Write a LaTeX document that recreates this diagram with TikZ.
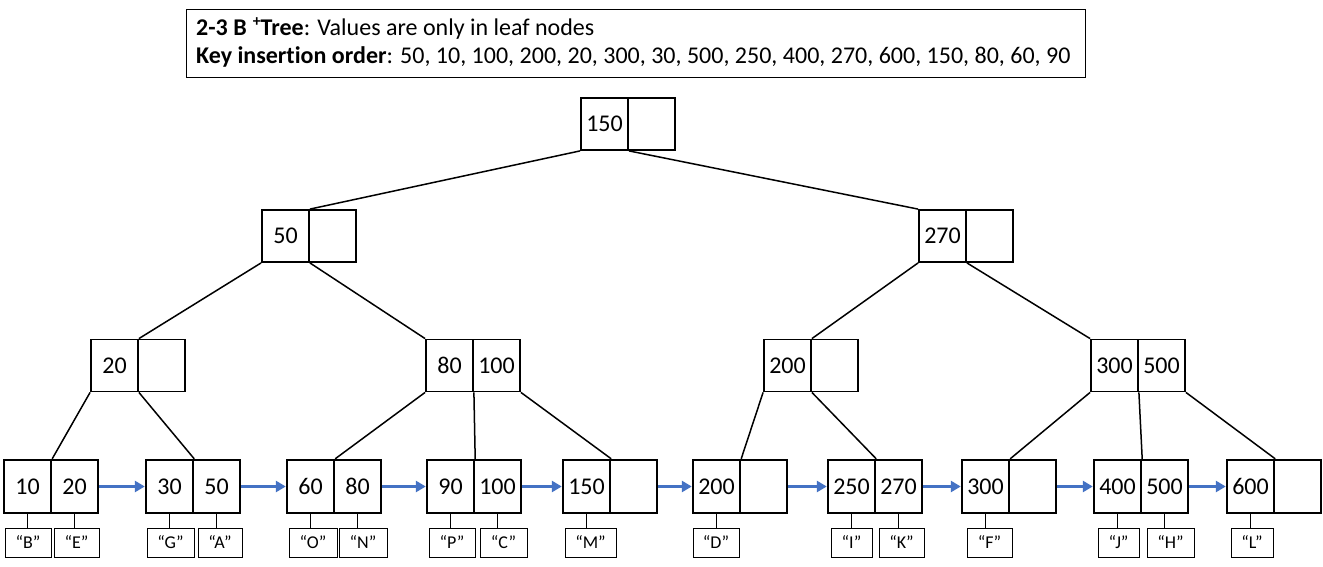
\documentclass[tikz,border=0pt]{standalone}
\usepackage{fontspec}
\setmainfont[Ligatures=NoCommon]{Carlito}
\usetikzlibrary{arrows.meta}
\definecolor{arrowblue}{HTML}{4472C4}
\begin{document}
\begin{tikzpicture}[x=1pt,y=-1pt,
  icell/.style={draw, line width=1.8pt, minimum width=47pt, minimum height=52pt, inner sep=0pt, font=\fontsize{24}{28}\selectfont},
  lcell/.style={icell, line width=2.4pt, minimum height=53pt},
  vbox/.style={draw, line width=1pt, minimum height=29pt, inner sep=0pt, font=\fontsize{18}{21}\selectfont},
  treeedge/.style={line width=1.5pt},
  stub/.style={line width=1pt},
  nextptr/.style={draw=arrowblue, line width=3pt, -{Triangle[length=10pt,width=11pt]}},
  titletext/.style={anchor=base west, inner sep=0pt, font=\fontsize{24}{28}\selectfont}
]
\useasboundingbox[fill=white] (0,0) rectangle (1323,567);

% title
\node[draw, line width=1pt, minimum width=899pt, minimum height=68pt, anchor=north west, inner sep=0pt] (title) at (186,9) {};
\node[titletext] (t1) at (196,35.7) {\textbf{2-3 B\kern6pt\raisebox{9pt}{\fontsize{16}{16}\selectfont\bfseries +}Tree}: Values are only in leaf nodes};
\node[titletext] (t2) at (196,63.3) {\textbf{Key insertion order}: 50, 10, 100, 200, 20, 300, 30, 500, 250, 400, 270, 600, 150, 80, 60, 90};

% root
\node[icell] (ra) at (604.5,124) {150};
\node[icell] (rb) at (651.5,124) {};
% level 2
\node[icell] (pa) at (285.5,236) {50};
\node[icell] (pb) at (332.5,236) {};
\node[icell] (qa) at (942.5,236) {270};
\node[icell] (qb) at (989.5,236) {};
% level 3
\node[icell] (ua) at (114.5,365.5) {20};
\node[icell] (ub) at (161.5,365.5) {};
\node[icell] (va) at (449.5,365.5) {80};
\node[icell] (vb) at (496.5,365.5) {100};
\node[icell] (wa) at (787.5,365.5) {200};
\node[icell] (wb) at (834.5,365.5) {};
\node[icell] (za) at (1114.5,365.5) {300};
\node[icell] (zb) at (1161.5,365.5) {500};
% leaves
\node[lcell] (l1a) at (27.5,486.5) {10};
\node[lcell] (l1b) at (74.5,486.5) {20};
\node[lcell] (l2a) at (169.5,486.5) {30};
\node[lcell] (l2b) at (216.5,486.5) {50};
\node[lcell] (l3a) at (310.5,486.5) {60};
\node[lcell] (l3b) at (357.5,486.5) {80};
\node[lcell] (l4a) at (450.5,486.5) {90};
\node[lcell] (l4b) at (497.5,486.5) {100};
\node[lcell] (l5a) at (586.5,486.5) {150};
\node[lcell] (l5b) at (633.5,486.5) {};
\node[lcell] (l6a) at (716.5,486.5) {200};
\node[lcell] (l6b) at (763.5,486.5) {};
\node[lcell] (l7a) at (851.5,486.5) {250};
\node[lcell] (l7b) at (898.5,486.5) {270};
\node[lcell] (l8a) at (985.5,486.5) {300};
\node[lcell] (l8b) at (1032.5,486.5) {};
\node[lcell] (l9a) at (1117.5,486.5) {400};
\node[lcell] (l9b) at (1164.5,486.5) {500};
\node[lcell] (l10a) at (1250.5,486.5) {600};
\node[lcell] (l10b) at (1297.5,486.5) {};

% values
\node[vbox, minimum width=46pt] (vB) at (28,542.5) {“B”};
\node[vbox, minimum width=45pt] (vE) at (76.5,542.5) {“E”};
\node[vbox, minimum width=47pt] (vG) at (170.5,542.5) {“G”};
\node[vbox, minimum width=44pt] (vA) at (220,542.5) {“A”};
\node[vbox, minimum width=48pt] (vO) at (313,542.5) {“O”};
\node[vbox, minimum width=48pt] (vN) at (363,542.5) {“N”};
\node[vbox, minimum width=46pt] (vP) at (452,542.5) {“P”};
\node[vbox, minimum width=47pt] (vC) at (503.5,542.5) {“C”};
\node[vbox, minimum width=51pt] (vM) at (590.5,542.5) {“M”};
\node[vbox, minimum width=46pt] (vD) at (716,542.5) {“D”};
\node[vbox, minimum width=41pt] (vI) at (851.5,542.5) {“I”};
\node[vbox, minimum width=45pt] (vK) at (901.5,542.5) {“K”};
\node[vbox, minimum width=45pt] (vF) at (989.5,542.5) {“F”};
\node[vbox, minimum width=41pt] (vJ) at (1118.5,542.5) {“J”};
\node[vbox, minimum width=47pt] (vH) at (1170.5,542.5) {“H”};
\node[vbox, minimum width=42pt] (vL) at (1252,542.5) {“L”};

% stubs
\foreach \c/\v in {l1a/vB,l1b/vE,l2a/vG,l2b/vA,l3a/vO,l3b/vN,l4a/vP,l4b/vC,l5a/vM,l6a/vD,l7a/vI,l7b/vK,l8a/vF,l9a/vJ,l9b/vH,l10a/vL}
  \draw[stub] (\c.south) -- (\c.south |- \v.north);

% tree edges
\draw[treeedge] (ra.south west) -- (pa.north east);
\draw[treeedge] (ra.south east) -- (qa.north west);
\draw[treeedge] (pa.south west) -- (ua.north east);
\draw[treeedge] (pa.south east) -- (va.north west);
\draw[treeedge] (qa.south west) -- (wa.north east);
\draw[treeedge] (qa.south east) -- (za.north west);
\draw[treeedge] (ua.south west) -- (l1a.north east);
\draw[treeedge] (ua.south east) -- (l2a.north east);
\draw[treeedge] (va.south west) -- (l3a.north east);
\draw[treeedge] (va.south east) -- (l4a.north east);
\draw[treeedge] (vb.south east) -- (l5a.north east);
\draw[treeedge] (wa.south west) -- (l6a.north east);
\draw[treeedge] (wa.south east) -- (l7a.north east);
\draw[treeedge] (za.south west) -- (l8a.north east);
\draw[treeedge] (za.south east) -- (l9a.north east);
\draw[treeedge] (zb.south east) -- (l10a.north east);

% leaf links
\draw[nextptr] (l1b.east) -- (l2a.west);
\draw[nextptr] (l2b.east) -- (l3a.west);
\draw[nextptr] (l3b.east) -- (l4a.west);
\draw[nextptr] (l4b.east) -- (l5a.west);
\draw[nextptr] (l5b.east) -- (l6a.west);
\draw[nextptr] (l6b.east) -- (l7a.west);
\draw[nextptr] (l7b.east) -- (l8a.west);
\draw[nextptr] (l8b.east) -- (l9a.west);
\draw[nextptr] (l9b.east) -- (l10a.west);
\end{tikzpicture}
\end{document}
